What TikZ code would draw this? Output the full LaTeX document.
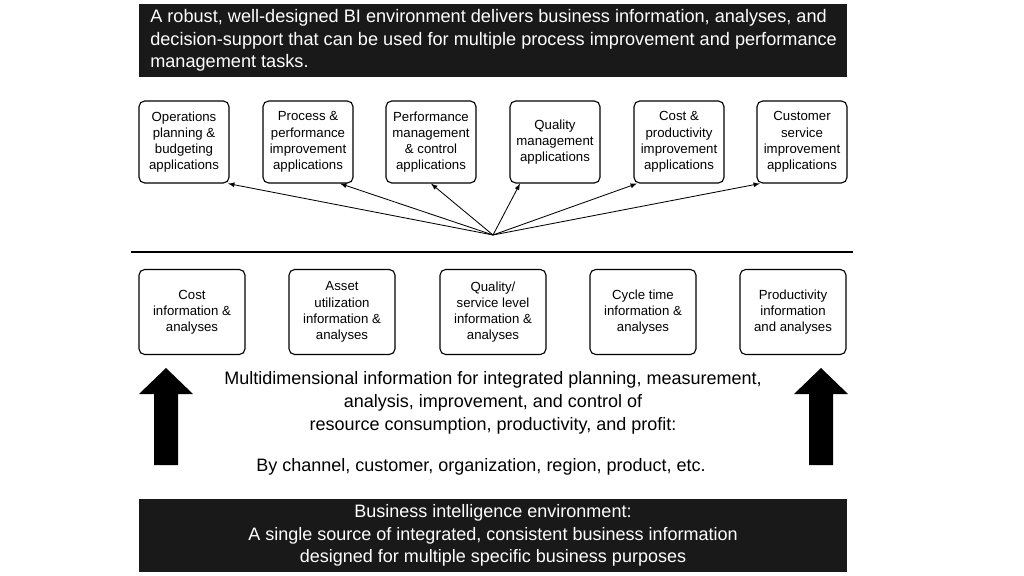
\documentclass[tikz,border=0pt]{standalone}
\usepackage{fontspec}
\setmainfont{Liberation Sans}
\begin{document}
\begin{tikzpicture}[x=0.025cm,y=-0.025cm,
    app/.style={draw,thick,rounded corners=4pt,minimum width=90*0.025cm,minimum height=82*0.025cm,align=center,font=\fontsize{9.4}{11.5}\selectfont,inner sep=1pt},
    info/.style={app,minimum width=106*0.025cm,minimum height=85*0.025cm},
    banner/.style={fill=black!90,text=white,minimum width=708*0.025cm,minimum height=73*0.025cm,font=\fontsize{12.9}{16}\selectfont},
    bigup/.style={fill=black}]
    \useasboundingbox (0,0) rectangle (1024,576);
    % Top banner
    \node[banner] (goal) at (493,40.5) {};
    \node[text=white,align=left,anchor=west,font=\fontsize{12.9}{16}\selectfont,inner sep=0pt] (goaltext) at (150,40.5) {A robust, well-designed BI environment delivers business information, analyses, and\\decision-support that can be used for multiple process improvement and performance\\management tasks.};

    % Applications
    \node[app] (ops) at (184,142) {Operations\\planning \&\\budgeting\\applications};
    \node[app] (proc) at (308,142) {Process \&\\performance\\improvement\\applications};
    \node[app] (perf) at (431,142) {Performance\\management\\\& control\\applications};
    \node[app] (qual) at (555,142) {Quality\\management\\applications};
    \node[app] (cost) at (679,142) {Cost \&\\productivity\\improvement\\applications};
    \node[app] (cust) at (802,142) {Customer\\service\\improvement\\applications};

    % Arrows from hub
    \coordinate (hub) at (493,235);
    \foreach \t/\x in {ops/228,proc/340,perf/431,qual/520,cost/637,cust/760}
        \draw[-latex,semithick] (hub) -- (\t.south -| \x,0);

    \coordinate (lineL) at (131,252);
    \coordinate (lineR) at (853,252);
    \draw[thick] (lineL) -- (lineR);

    % Information
    \node[info] (costi) at (192,312) {Cost\\information \&\\analyses};
    \node[info] (asset) at (342,312) {Asset\\utilization\\information \&\\analyses};
    \node[info] (qsl) at (493,312) {Quality/\\service level\\information \&\\analyses};
    \node[info] (cycle) at (643,312) {Cycle time\\information \&\\analyses};
    \node[info] (prod) at (793,312) {Productivity\\information\\and analyses};

    % Big arrows
    \foreach \x in {166,821}
        \fill[bigup] (\x-12,465) -- (\x-12,394) -- (\x-27,394) -- (\x,368) -- (\x+27,394) -- (\x+12,394) -- (\x+12,465) -- cycle;

    \node[align=center,font=\fontsize{12.8}{16.5}\selectfont] (multi) at (493,403) {Multidimensional information for integrated planning, measurement,\\analysis, improvement, and control of\\resource consumption, productivity, and profit:};
    \node[font=\fontsize{12.8}{15}\selectfont] (dims) at (481,467) {By channel, customer, organization, region, product, etc.};

    % Bottom banner
    \node[banner,align=center,font=\fontsize{12.8}{16}\selectfont] (bienv) at (493,535.5) {Business intelligence environment:\\A single source of integrated, consistent business information\\designed for multiple specific business purposes};
\end{tikzpicture}
\end{document}
